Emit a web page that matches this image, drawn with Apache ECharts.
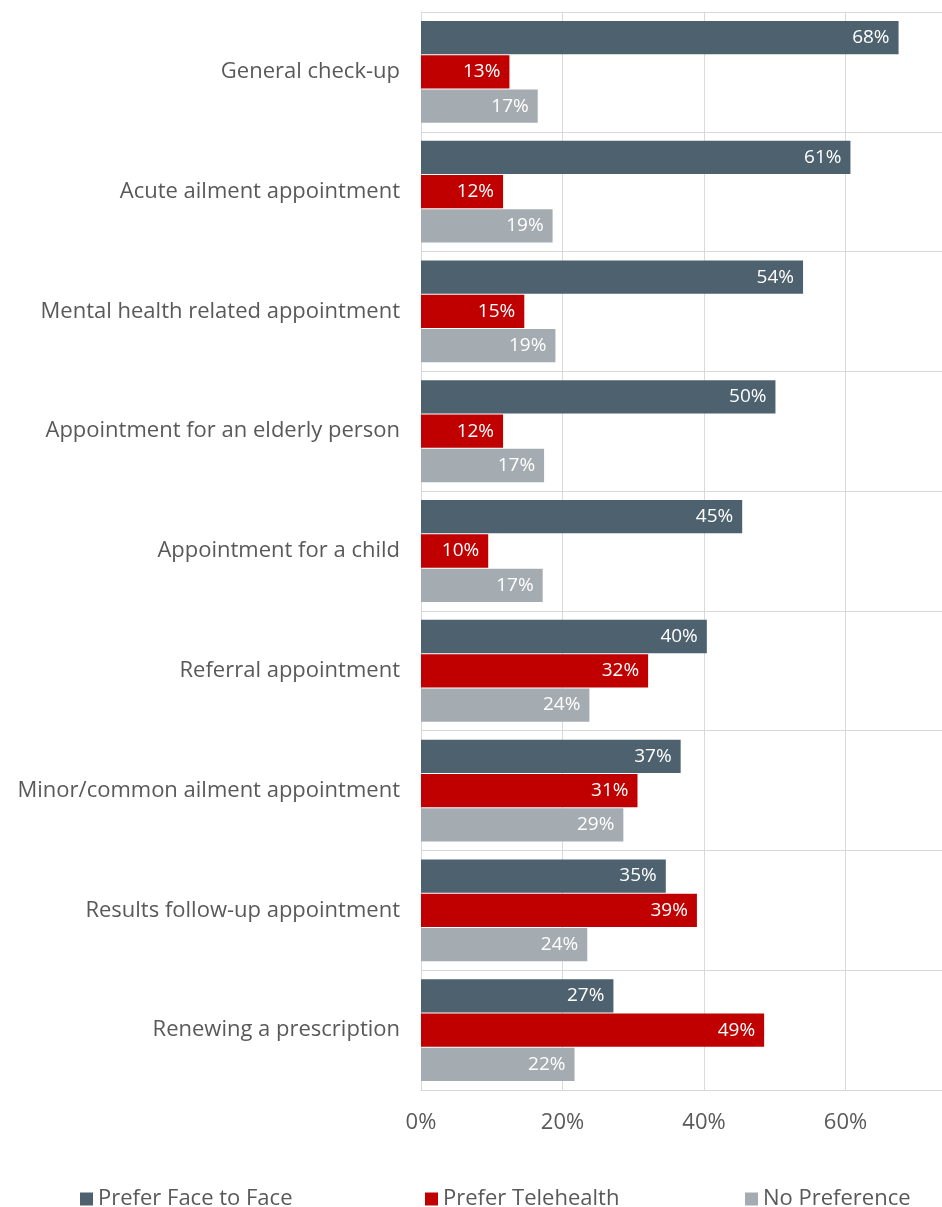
<!DOCTYPE html>
<html>
<head>
<meta charset="utf-8">
<style>
  html, body { margin: 0; padding: 0; background: #ffffff; overflow: hidden; }
  #chart { width: 990px; height: 1207px; }
</style>
<script src="https://cdn.jsdelivr.net/npm/echarts@6/dist/echarts.min.js"></script>
</head>
<body>
<div id="chart"></div>
<script>
// Appointment types, top to bottom
const categories = [
  'General check-up',
  'Acute ailment appointment',
  'Mental health related appointment',
  'Appointment for an elderly person',
  'Appointment for a child',
  'Referral appointment',
  'Minor/common ailment appointment',
  'Results follow-up appointment',
  'Renewing a prescription'
];

// Share of respondents (%) per preference
const faceToFace   = [67.5, 60.7, 54.0, 50.1, 45.4, 40.4, 36.7, 34.6, 27.2];
const telehealth   = [12.5, 11.6, 14.6, 11.6, 9.5, 32.1, 30.6, 39.0, 48.5];
const noPreference = [16.5, 18.6, 19.0, 17.4, 17.2, 23.8, 28.6, 23.5, 21.7];

const seriesNames = ['Prefer Face to Face', 'Prefer Telehealth', 'No Preference'];
const xTicks = [0, 20, 40, 60, 80];

const colors = ['#4d626e', '#c00000', '#a5acb1'];
const FONT = '"Open Sans", "Noto Sans", sans-serif';
const TEXT = '#595959';
const GRID = '#d9d9d9';

// The canvas runs past the right edge of the page so the 80% end of the
// axis sits off-screen.
const chart = echarts.init(document.getElementById('chart'), null, {
  renderer: 'canvas', width: 990, height: 1207
});

function barSeries(name, data, color) {
  return {
    name: name,
    type: 'bar',
    data: data,
    barGap: '3%',
    barCategoryGap: '15%',
    itemStyle: { color: color },
    label: {
      show: true,
      position: 'insideRight',
      distance: 9,
      color: '#ffffff',
      fontFamily: FONT,
      fontSize: 19,
      formatter: p => Math.round(p.value) + '%'
    },
    emphasis: { disabled: true }
  };
}

function legendAt(left, name) {
  return {
    data: [name],
    left: left,
    top: 1183,
    itemWidth: 13,
    itemHeight: 13,
    icon: 'rect',
    textStyle: { color: TEXT, fontFamily: FONT, fontSize: 22 }
  };
}

chart.setOption({
  animation: false,
  color: colors,
  legend: [
    legendAt(75, seriesNames[0]),
    legendAt(420, seriesNames[1]),
    legendAt(740, seriesNames[2])
  ],
  grid: {
    left: 421, right: 3, top: 12, bottom: 117,
    containLabel: false,
    outerBoundsMode: 'none'
  },
  xAxis: {
    type: 'value',
    min: xTicks[0],
    max: xTicks[xTicks.length - 1],
    interval: 20,
    axisLine: { show: true, lineStyle: { color: GRID, width: 1 } },
    axisTick: { show: false },
    axisLabel: {
      color: TEXT,
      fontFamily: FONT,
      fontSize: 22,
      margin: 22,
      formatter: v => v + '%'
    },
    splitLine: { show: true, lineStyle: { color: GRID, width: 1 } }
  },
  yAxis: {
    type: 'category',
    data: categories,
    inverse: true,
    axisLine: { show: true, lineStyle: { color: GRID, width: 1 } },
    axisTick: { show: false },
    axisLabel: {
      color: TEXT,
      fontFamily: FONT,
      fontSize: 22,
      margin: 21
    },
    splitLine: { show: true, lineStyle: { color: GRID, width: 1 } }
  },
  series: [
    barSeries(seriesNames[0], faceToFace, colors[0]),
    barSeries(seriesNames[1], telehealth, colors[1]),
    barSeries(seriesNames[2], noPreference, colors[2])
  ]
});
</script>
</body>
</html>
